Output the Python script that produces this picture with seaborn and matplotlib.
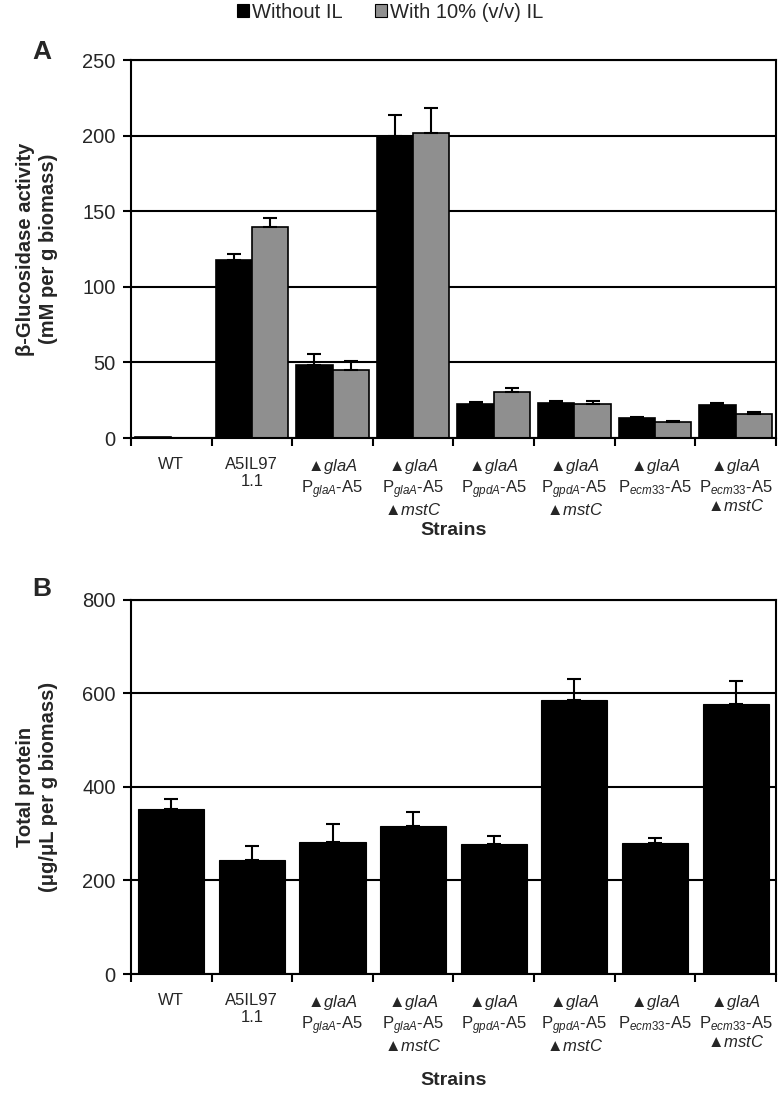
import pandas as pd
import numpy as np
import matplotlib
matplotlib.use("Agg")
import matplotlib.pyplot as plt
from matplotlib.patches import Patch
import seaborn as sns

# strain labels (same for both panels)
strains = [
    "WT",
    "A5IL97\n1.1",
    "▲$\\mathit{glaA}$\nP$_{\\mathit{glaA}}$-A5",
    "▲$\\mathit{glaA}$\nP$_{\\mathit{glaA}}$-A5\n▲$\\mathit{mstC}$",
    "▲$\\mathit{glaA}$\nP$_{\\mathit{gpdA}}$-A5",
    "▲$\\mathit{glaA}$\nP$_{\\mathit{gpdA}}$-A5\n▲$\\mathit{mstC}$",
    "▲$\\mathit{glaA}$\nP$_{\\mathit{ecm33}}$-A5",
    "▲$\\mathit{glaA}$\nP$_{\\mathit{ecm33}}$-A5\n▲$\\mathit{mstC}$",
]
conditions = ["Without IL", "With 10% (v/v) IL"]

# panel A: beta-glucosidase activity
gluc_without = [0.5, 118, 48, 200, 22.5, 23, 13.3, 21.5]
gluc_without_err = [0, 4, 7.5, 13.5, 1, 1.2, 0.4, 1.5]
gluc_with = [0.3, 139.5, 45, 202, 30.3, 22.3, 10.6, 16]
gluc_with_err = [0, 6, 6, 16.5, 2.5, 2.5, 0.8, 1.5]

# panel B: total protein
protein = [352, 243, 283, 316, 279, 587, 281, 577]
protein_err = [22, 30, 37, 30, 16, 44, 9, 50]

BLACK = "#000000"
GRAY = "#8f8f8f"

sns.set_theme(style="white")
plt.rcParams["font.family"] = ["Liberation Sans", "DejaVu Sans"]
plt.rcParams["mathtext.fontset"] = "custom"
plt.rcParams["mathtext.rm"] = "Liberation Sans"
plt.rcParams["mathtext.it"] = "Liberation Sans:italic"
plt.rcParams["mathtext.bf"] = "Liberation Sans:bold"

fig = plt.figure(figsize=(7.8, 10.95), dpi=100)
axA = fig.add_axes([0.1679, 0.6, 0.8269, 0.3452])
axB = fig.add_axes([0.1679, 0.1105, 0.8269, 0.3416])


def style_axis(ax, ymax, ystep, label, label_x, xlab_y):
    ax.set_ylim(0, ymax)
    ax.set_yticks(np.arange(0, ymax + 1, ystep))
    ax.set_xlim(-0.5, len(strains) - 0.5)
    ax.yaxis.grid(True, color="black", linewidth=1.5)
    ax.set_axisbelow(True)
    for sp in ax.spines.values():
        sp.set_visible(True)
        sp.set_color("black")
        sp.set_linewidth(1.5)
    ax.set_xticks(range(len(strains)))
    ax.set_xticklabels(strains, fontsize=12, linespacing=1.1)
    ax.set_xticks(np.arange(-0.5, len(strains)), minor=True)
    ax.tick_params(axis="x", which="major", length=0, pad=14)
    ax.tick_params(axis="x", which="minor", length=6, width=1.5,
                   direction="out", color="black", bottom=True)
    ax.tick_params(axis="y", length=6, width=1.5, direction="out",
                   color="black", left=True, labelsize=14.5, pad=5)
    ax.set_ylabel(label, fontsize=14.5, fontweight="bold", linespacing=1.25)
    ax.yaxis.set_label_coords(label_x, 0.5)
    ax.set_xlabel("Strains", fontsize=14, fontweight="bold")
    ax.xaxis.set_label_coords(0.5, xlab_y)


def add_errors(ax, errs_per_container):
    for cont, errs in zip(ax.containers, errs_per_container):
        xs = [p.get_x() + p.get_width() / 2 for p in cont.patches]
        ys = [p.get_height() for p in cont.patches]
        xs = [x for x, e in zip(xs, errs) if e > 0]
        tops = [y for y, e in zip(ys, errs) if e > 0]
        up = [e for e in errs if e > 0]
        ax.errorbar(xs, tops, yerr=[np.zeros(len(up)), up], fmt="none",
                    ecolor="black", elinewidth=1.5, capsize=5, capthick=1.5,
                    zorder=5)


# panel A
dfA = pd.DataFrame({
    "strain": strains * 2,
    "condition": [conditions[0]] * len(strains) + [conditions[1]] * len(strains),
    "value": gluc_without + gluc_with,
})
sns.barplot(data=dfA, x="strain", y="value", hue="condition",
            palette=[BLACK, GRAY], width=0.9, errorbar=None,
            edgecolor="black", linewidth=1.2, legend=False, ax=axA)
add_errors(axA, [gluc_without_err, gluc_with_err])
style_axis(axA, 250, 50, "β-Glucosidase activity\n(mM per g biomass)",
           -0.113, -0.222)

# panel B
dfB = pd.DataFrame({"strain": strains, "value": protein})
sns.barplot(data=dfB, x="strain", y="value", color=BLACK, saturation=1,
            width=0.82, errorbar=None, edgecolor="black", linewidth=0.8,
            ax=axB)
add_errors(axB, [protein_err])
style_axis(axB, 800, 200, "Total protein\n(μg/μL per g biomass)",
           -0.113, -0.262)

# legend on top
handles = [Patch(facecolor=BLACK, edgecolor="black", linewidth=0.8),
           Patch(facecolor=GRAY, edgecolor="black", linewidth=0.8)]
fig.legend(handles, conditions, loc="center", bbox_to_anchor=(0.5, 0.989),
           ncol=2, frameon=False, fontsize=14.5, handlelength=0.6,
           handleheight=0.6, handletextpad=0.15, columnspacing=1.6)

fig.text(0.054, 1 - 52 / 1095, "A", fontsize=19, fontweight="bold",
         ha="center", va="center")
fig.text(0.053, 1 - 589 / 1095, "B", fontsize=19, fontweight="bold",
         ha="center", va="center")

fig.savefig("out.png", dpi=100)
